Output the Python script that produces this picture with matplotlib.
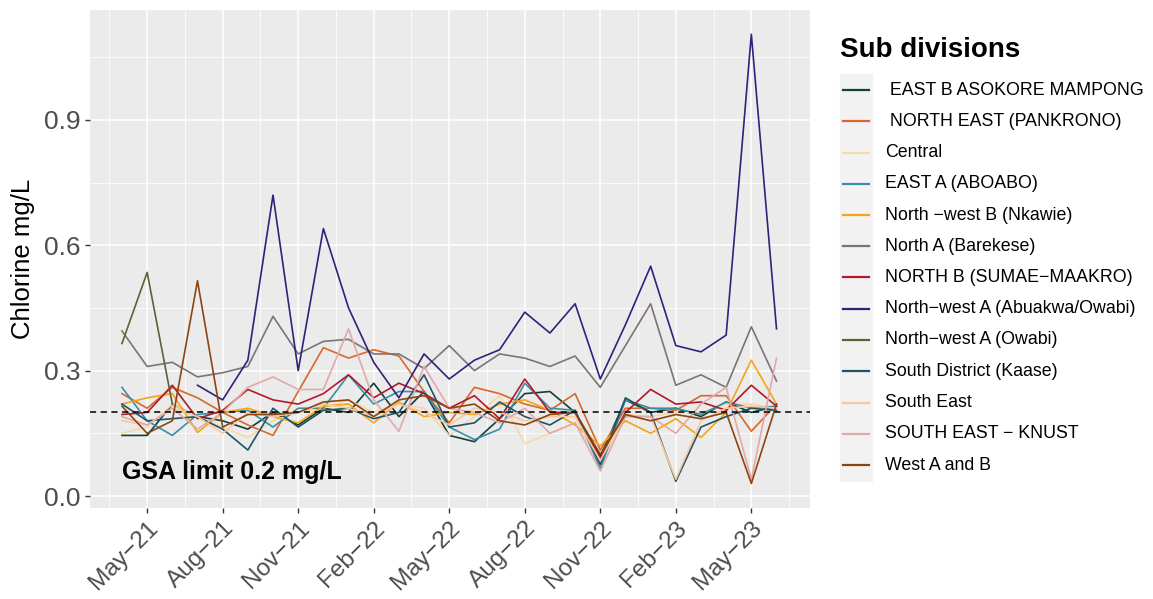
import numpy as np
import matplotlib.pyplot as plt
from matplotlib.lines import Line2D
from matplotlib.patches import Rectangle

plt.rcParams['font.family'] = ['Liberation Sans', 'DejaVu Sans']

# Months Apr-21 .. Jun-23 (index 0..26)
n_months = 27
tick_idx = [1, 4, 7, 10, 13, 16, 19, 22, 25]
tick_labels = ['May\u221221', 'Aug\u221221', 'Nov\u221221', 'Feb\u221222', 'May\u221222',
               'Aug\u221222', 'Nov\u221222', 'Feb\u221223', 'May\u221223']

# Chlorine values (mg/L) per sub division
east_b = [0.145, 0.145, 0.22, 0.19, 0.18, 0.16, 0.20, 0.17, 0.21, 0.20, 0.27, 0.19, 0.25, 0.145,
          0.13, 0.185, 0.245, 0.25, 0.20, 0.095, 0.23, 0.20, 0.21, 0.19, 0.225, 0.20, 0.215]
north_east = [0.245, 0.21, 0.26, 0.235, 0.20, 0.17, 0.145, 0.25, 0.355, 0.33, 0.35, 0.335, 0.25, 0.175,
              0.26, 0.245, 0.22, 0.205, 0.245, 0.11, 0.21, 0.21, 0.205, 0.24, 0.24, 0.155, 0.22]
central = [0.15, 0.165, 0.22, 0.19, 0.165, 0.14, 0.18, 0.20, 0.21, 0.23, 0.20, 0.22, 0.21, 0.145,
           0.19, 0.24, 0.125, 0.15, 0.175, 0.08, 0.19, 0.19, 0.20, 0.20, 0.22, 0.22, 0.21]
east_a = [0.26, 0.18, 0.145, 0.195, 0.20, 0.205, 0.165, 0.21, 0.21, 0.29, 0.22, 0.25, 0.25, 0.165,
          0.135, 0.16, 0.27, 0.21, 0.205, 0.065, 0.23, 0.21, 0.21, 0.195, 0.225, 0.21, 0.215]
nkawie = [0.22, 0.235, 0.245, 0.152, 0.20, 0.21, 0.19, 0.175, 0.215, 0.22, 0.175, 0.225, 0.19, 0.20,
          0.195, 0.22, 0.23, 0.205, 0.17, 0.12, 0.18, 0.15, 0.185, 0.14, 0.20, 0.325, 0.22]
barekese = [0.395, 0.31, 0.32, 0.285, 0.295, 0.31, 0.43, 0.34, 0.37, 0.375, 0.34, 0.34, 0.305, 0.36,
            0.30, 0.34, 0.33, 0.31, 0.335, 0.26, 0.36, 0.46, 0.265, 0.29, 0.26, 0.405, 0.275]
north_b = [0.195, 0.20, 0.265, 0.185, 0.205, 0.255, 0.23, 0.22, 0.245, 0.29, 0.235, 0.27, 0.245, 0.21,
           0.24, 0.185, 0.28, 0.20, 0.20, 0.09, 0.20, 0.255, 0.22, 0.225, 0.205, 0.265, 0.215]
abuakwa = [None, None, None, 0.265, 0.23, 0.325, 0.72, 0.30, 0.64, 0.45, 0.32, 0.235, 0.34, 0.28,
           0.325, 0.35, 0.44, 0.39, 0.46, 0.28, 0.41, 0.55, 0.36, 0.345, 0.385, 1.105, 0.40]
owabi = [0.365, 0.535, 0.22] + [None] * 24
kaase = [0.22, 0.18, 0.185, 0.19, 0.16, 0.11, 0.21, 0.165, 0.205, 0.21, 0.185, 0.20, 0.29, 0.165,
         0.175, 0.225, 0.19, 0.17, 0.205, 0.075, 0.235, 0.20, 0.035, 0.165, 0.19, 0.21, 0.205]
south_east = [0.18, 0.17, 0.21, 0.19, 0.15, 0.20, 0.19, 0.20, 0.22, 0.21, 0.19, 0.22, 0.20, 0.17,
              0.21, 0.20, 0.18, 0.19, 0.19, 0.085, 0.195, 0.19, 0.04, 0.18, 0.21, 0.215, 0.21]
knust = [0.19, 0.17, 0.21, 0.16, 0.20, 0.26, 0.285, 0.255, 0.255, 0.40, 0.23, 0.155, 0.31, 0.21,
         0.20, 0.175, 0.21, 0.15, 0.175, 0.06, 0.19, 0.19, 0.15, 0.22, 0.26, 0.04, 0.33]
west_ab = [0.215, 0.15, 0.18, 0.515, 0.165, 0.195, 0.195, 0.20, 0.225, 0.23, 0.19, 0.23, 0.24, 0.21,
           0.22, 0.18, 0.17, 0.195, 0.20, 0.10, 0.195, 0.18, 0.195, 0.185, 0.20, 0.03, 0.22]

names = [' EAST B ASOKORE MAMPONG', ' NORTH EAST (PANKRONO)', 'Central', 'EAST A (ABOABO)',
         'North \u2212west B (Nkawie)', 'North A (Barekese)', 'NORTH B (SUMAE\u2212MAAKRO)',
         'North\u2212west A (Abuakwa/Owabi)', 'North\u2212west A (Owabi)', 'South District (Kaase)',
         'South East', 'SOUTH EAST \u2212 KNUST', 'West A and B']
series = [east_b, north_east, central, east_a, nkawie, barekese, north_b,
          abuakwa, owabi, kaase, south_east, knust, west_ab]
colors = ['#123f3b', '#d8672a', '#f8d8a8', '#3a8ea8', '#f5a514', '#7d7377', '#b2182b',
          '#33207a', '#5b6435', '#1f5468', '#fbc89c', '#e2a9aa', '#8c4512']

W, H = 1153, 599
fig = plt.figure(figsize=(W / 100, H / 100), dpi=100)
ax = fig.add_axes([90 / W, 1 - 508 / H, 720 / W, 498 / H])
ax.set_facecolor('#ebebeb')

x = np.arange(n_months)
for vals, col in zip(series, colors):
    y = np.array([np.nan if v is None else v for v in vals], dtype=float)
    ax.plot(x, y, color=col, lw=1.2)

ax.axhline(0.2, color='black', ls=(0, (4, 3)), lw=1.1)
ax.text(0, 0.057, 'GSA limit 0.2 mg/L', fontsize=18, fontweight='bold', va='center', ha='left')

ax.set_xlim(-1.27, 27.33)
ax.set_ylim(-0.0287, 1.163)
ax.set_xticks(tick_idx)
ax.set_xticklabels(tick_labels, rotation=45, ha='right', rotation_mode='anchor')
ax.set_xticks([i - 1.5 for i in tick_idx] + [26.5], minor=True)
ax.set_yticks([0.0, 0.3, 0.6, 0.9])
ax.set_yticklabels(['0.0', '0.3', '0.6', '0.9'])
ax.set_yticks([0.15, 0.45, 0.75, 1.05], minor=True)
ax.grid(which='major', color='white', lw=1.1)
ax.grid(which='minor', color='white', lw=0.55)
ax.set_axisbelow(True)
for s in ax.spines.values():
    s.set_visible(False)
ax.tick_params(which='major', length=3.5, width=1, color='#333333', labelsize=19, labelcolor='#4d4d4d')
ax.tick_params(axis='x', which='major', labelsize=17.5, pad=3)
ax.tick_params(which='minor', length=0)
ax.set_ylabel('Chlorine mg/L', fontsize=18.5, labelpad=6)

# legend drawn by hand in figure pixels
def fx(px):
    return px / W

def fy(py):
    return 1 - py / H

fig.text(fx(840), fy(50), 'Sub divisions', fontsize=20, fontweight='bold', va='center', ha='left')
fig.add_artist(Rectangle((fx(840), fy(481)), fx(872) - fx(840), fy(74) - fy(481),
                         transform=fig.transFigure, color='#f2f2f2', zorder=0))
for k, (name, col) in enumerate(zip(names, colors)):
    yc = 90 + k * 31.25
    fig.add_artist(Line2D([fx(843), fx(869)], [fy(yc), fy(yc)], transform=fig.transFigure,
                          color=col, lw=1.6))
    fig.text(fx(885), fy(yc), name, fontsize=12.8, va='center', ha='left')

fig.savefig('out.png', dpi=100)
